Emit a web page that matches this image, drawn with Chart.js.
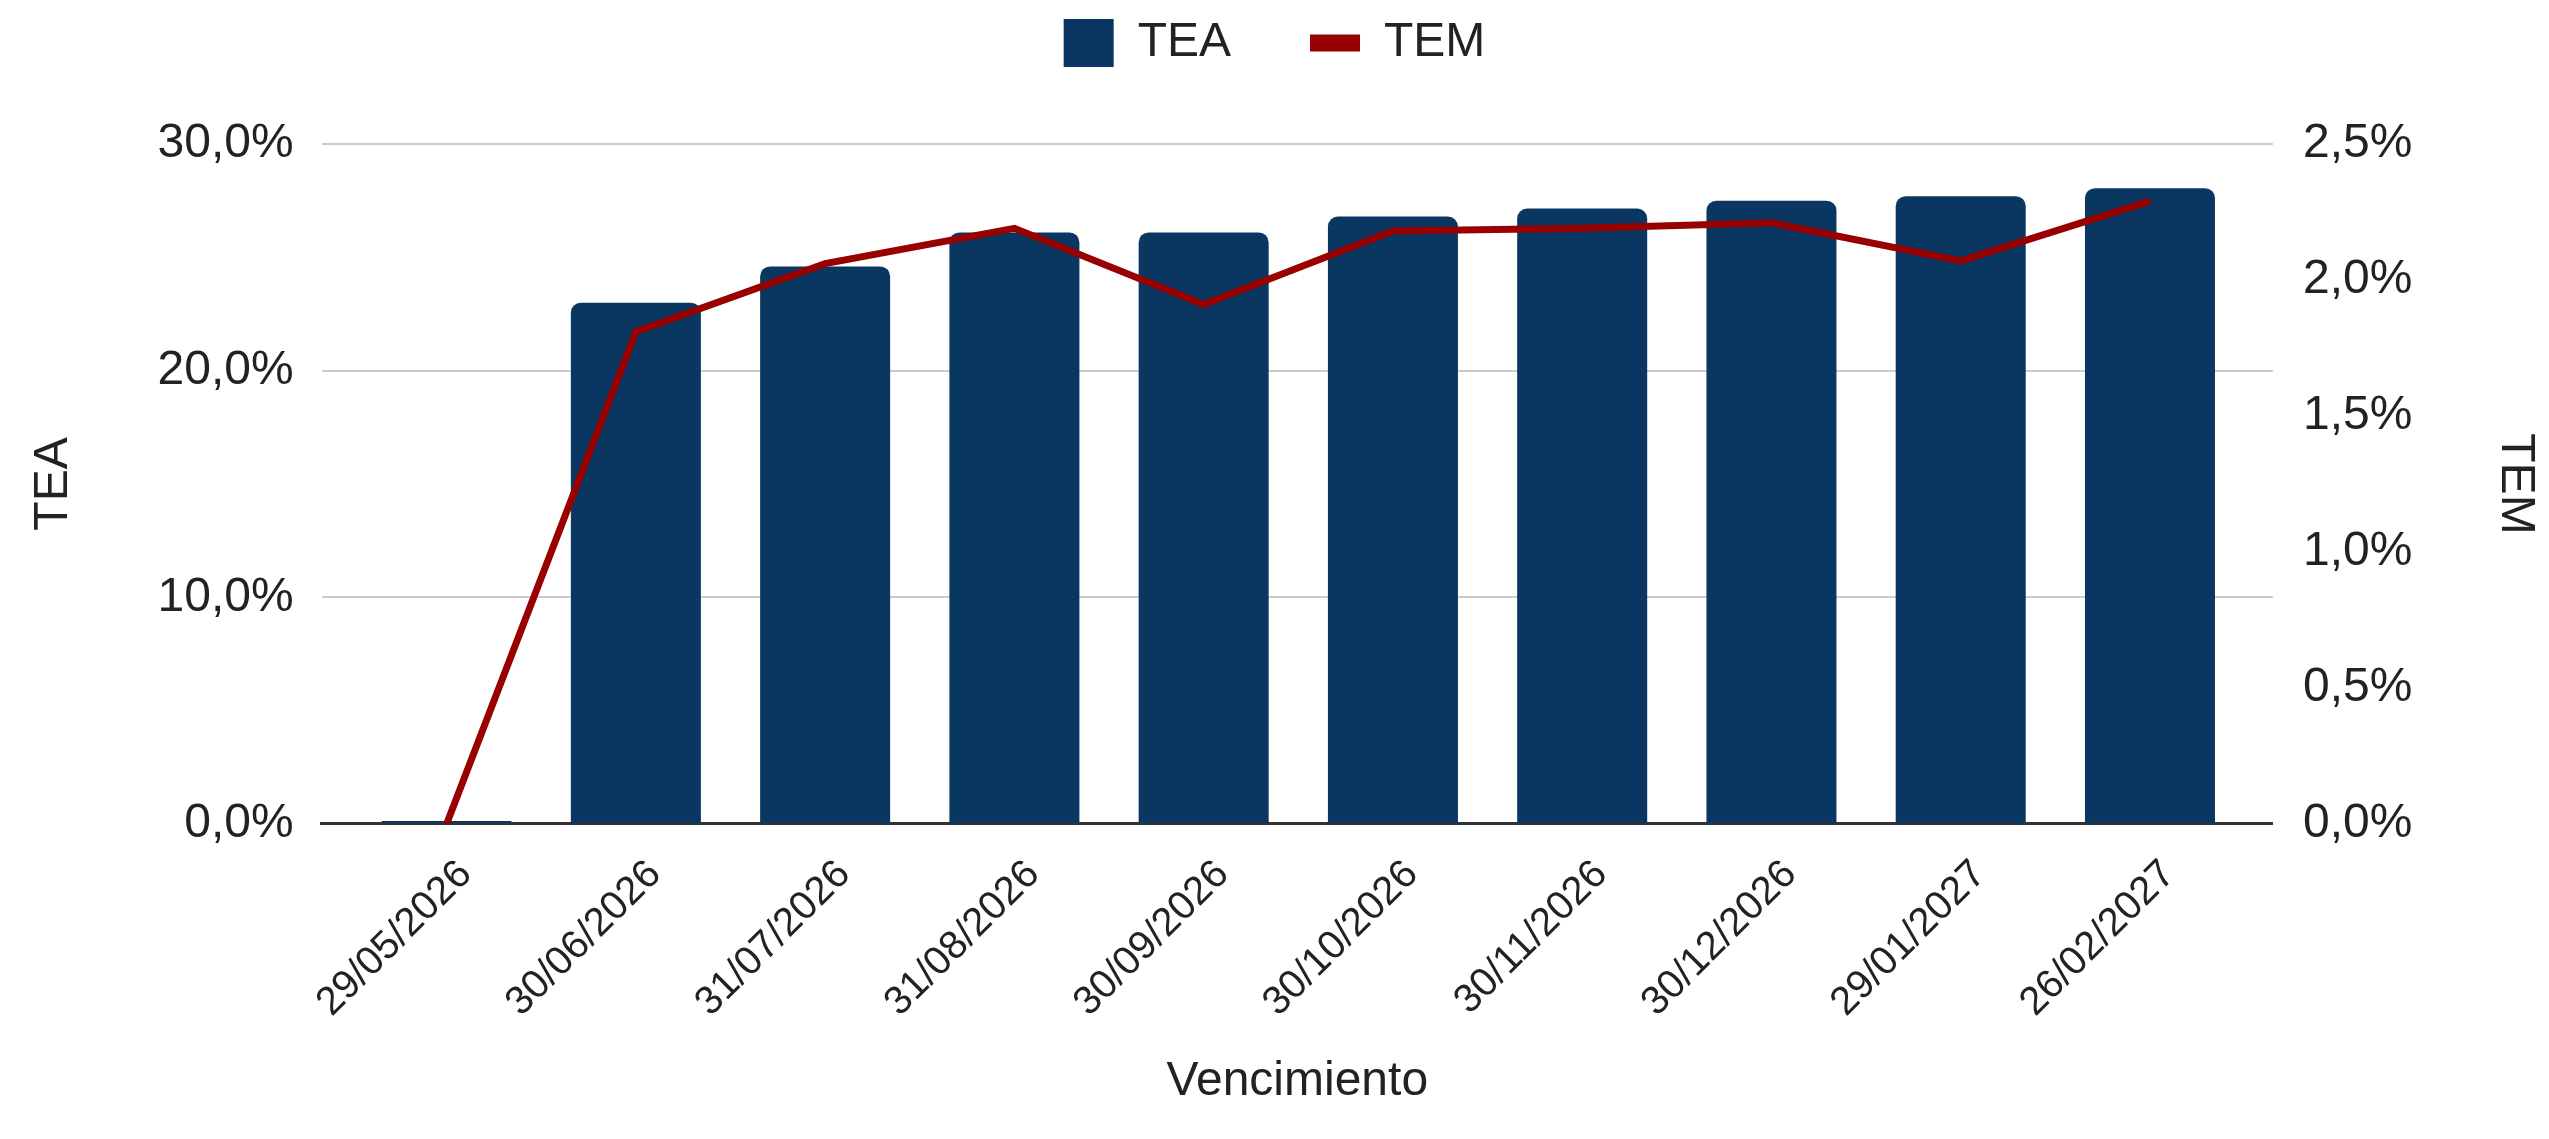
<!DOCTYPE html>
<html>
<head>
<meta charset="utf-8">
<script src="https://cdn.jsdelivr.net/npm/chart.js@4.4.1/dist/chart.umd.min.js"></script>
<style>
  html, body { margin: 0; padding: 0; background: #fff; }
  #wrap { width: 2549px; height: 1139px; position: relative; }
</style>
</head>
<body>
<div id="wrap"><canvas id="chart"></canvas></div>
<script>
// --- data ---
const VENCIMIENTOS = ['29/05/2026', '30/06/2026', '31/07/2026', '31/08/2026', '30/09/2026',
                      '30/10/2026', '30/11/2026', '30/12/2026', '29/01/2027', '26/02/2027'];
const TEA = [0, 23.0, 24.6, 26.1, 26.1, 26.8, 27.15, 27.5, 27.7, 28.05];   // % (left axis)
const TEM = [0, 1.81, 2.06, 2.19, 1.91, 2.18, 2.19, 2.21, 2.07, 2.29];     // % (right axis)
const TEA_AXIS = { max: 30, step: 10 };
const TEM_AXIS = { max: 2.5, step: 0.5 };

const NAVY = '#0a3761';
const RED = '#990000';
const TEXT = '#222222';
const FONT = 48;
const LEGEND_GAP = 67;   // extra room between legend and plot

Chart.defaults.font.family = "'Liberation Sans', Arial, sans-serif";
Chart.defaults.color = TEXT;

const pct = v => v.toFixed(1).replace('.', ',') + '%';
const points = arr => arr.map((v, i) => ({ x: i, y: v }));

// legend has no margin option in v4, so stretch its box after fit
const legendGap = {
  id: 'legendGap',
  beforeLayout(chart) {
    const lg = chart.legend;
    if (!lg || lg._gapPatched) return;
    const fit = lg.fit.bind(lg);
    lg.fit = function () { fit(); this.height += LEGEND_GAP; };
    lg._gapPatched = true;
  }
};

const ctx = document.getElementById('chart').getContext('2d');
new Chart(ctx, {
  type: 'bar',
  plugins: [legendGap],
  data: {
    datasets: [
      { type: 'bar', label: 'TEA', data: points(TEA), yAxisID: 'yTEA',
        backgroundColor: NAVY, borderRadius: 10, barPercentage: 0.687, categoryPercentage: 1,
        minBarLength: 3, order: 2 },
      { type: 'line', label: 'TEM', data: points(TEM), yAxisID: 'yTEM',
        borderColor: RED, backgroundColor: RED, borderWidth: 7, pointRadius: 0,
        tension: 0, order: 1 },
    ]
  },
  options: {
    responsive: true, maintainAspectRatio: false, animation: false,
    layout: { padding: { top: -60, left: 0, right: 0, bottom: 0 } },
    plugins: {
      tooltip: { enabled: false },
      legend: {
        position: 'top',
        labels: {
          color: TEXT, font: { size: FONT }, usePointStyle: true, pointStyleWidth: 50, padding: 79,
          sort: (a, b) => a.datasetIndex - b.datasetIndex,
          generateLabels: chart => {
            const items = Chart.defaults.plugins.legend.labels.generateLabels(chart);
            items.forEach(it => {
              if (it.text === 'TEA') { it.pointStyle = 'rect'; it.fillStyle = NAVY; it.lineWidth = 0; }
              else { it.pointStyle = 'line'; it.strokeStyle = RED; it.lineWidth = 17; }
            });
            return items;
          }
        }
      }
    },
    scales: {
      x: {
        type: 'linear', min: -0.66, max: 9.65, bounds: 'data', offset: false,
        // one tick per date, at the bar centres
        afterBuildTicks: scale => { scale.ticks = VENCIMIENTOS.map((_, i) => ({ value: i })); },
        grid: { display: false, drawTicks: false, offset: false },
        border: { color: '#333333', width: 3 },
        ticks: {
          autoSkip: false, minRotation: 45, maxRotation: 45, labelOffset: 19, padding: 27,
          font: { size: 40 }, color: TEXT,
          callback: v => VENCIMIENTOS[v] ?? ''
        },
        title: { display: true, text: 'Vencimiento', color: TEXT, font: { size: FONT }, padding: { top: 0, bottom: 28 } }
      },
      yTEA: {
        position: 'left', min: 0, max: TEA_AXIS.max,
        ticks: { stepSize: TEA_AXIS.step, padding: 28, font: { size: FONT }, color: TEXT, callback: pct },
        grid: { color: '#cccccc', lineWidth: 2, drawTicks: false },
        border: { display: false },
        title: { display: true, text: 'TEA', color: TEXT, font: { size: FONT }, padding: { top: 25, bottom: 47 } }
      },
      yTEM: {
        position: 'right', min: 0, max: TEM_AXIS.max,
        ticks: { stepSize: TEM_AXIS.step, padding: 30, font: { size: FONT }, color: TEXT, callback: pct },
        grid: { display: false, drawTicks: false },
        border: { display: false },
        title: { display: true, text: 'TEM', color: TEXT, font: { size: FONT }, padding: { top: 5, bottom: 44 } }
      }
    }
  }
});
</script>
</body>
</html>
